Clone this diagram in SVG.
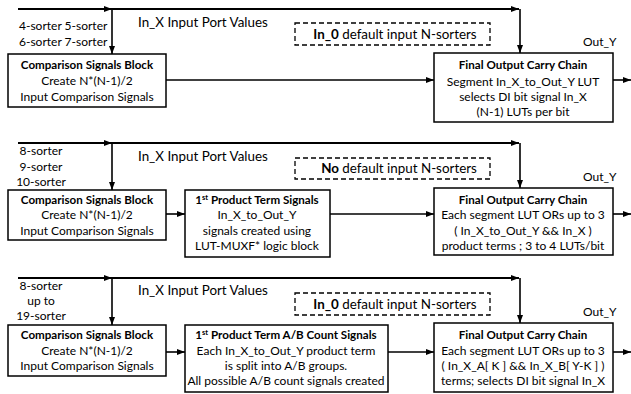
<svg xmlns="http://www.w3.org/2000/svg" width="631" height="394" viewBox="0 0 631 394">
<style>
text{font-family:Lato,"Liberation Sans",sans-serif;font-size:12px;fill:#000}
.c{text-anchor:middle}
.b{font-weight:bold;font-size:11.6px}
.t{font-size:13.4px}
.n{font-size:13.4px}
.box{fill:#fff;stroke:#000;stroke-width:1.5}
.dash{fill:none;stroke:#000;stroke-width:1.3;stroke-dasharray:5 3}
.ln{fill:none;stroke:#000;stroke-width:1.6;marker-end:url(#ah)}
.bus{fill:none;stroke:#000;stroke-width:2;marker-end:url(#ah)}
</style>
<defs>
<marker id="ah" markerUnits="userSpaceOnUse" markerWidth="8" markerHeight="6" refX="8" refY="3" orient="auto">
<path d="M0,0 L8,3 L0,6 Z" fill="#000"/>
</marker>
</defs>
<g id="connectors">
<path class="bus" d="M18,9 H112"/>
<path class="bus" d="M112,9 H519"/>
<path class="ln" d="M112,9 V54"/>
<path class="ln" d="M520,9 V53"/>
<path class="ln" d="M166,80 H434"/>
<path class="ln" d="M613,80 H631"/>
<path class="bus" d="M18,143 H112"/>
<path class="bus" d="M112,143 H519"/>
<path class="ln" d="M112,143 V190"/>
<path class="ln" d="M520,143 V188"/>
<path class="ln" d="M166,214 H185"/>
<path class="ln" d="M330,214 H434"/>
<path class="ln" d="M613,214 H631"/>
<path class="bus" d="M18,278 H112"/>
<path class="bus" d="M112,278 H519"/>
<path class="ln" d="M112,278 V325"/>
<path class="ln" d="M520,278 V323"/>
<path class="ln" d="M166,352 H185"/>
<path class="ln" d="M388,352 H434"/>
<path class="ln" d="M613,352 H631"/>
</g>
<g id="labels1">
<text x="19" y="30">4-sorter 5-sorter</text>
<text x="19" y="46">6-sorter 7-sorter</text>
<text class="t" x="138" y="27">In_X Input Port Values</text>
<text x="583" y="46">Out_Y</text>
</g>
<g id="note1">
<rect class="dash" x="295" y="23" width="195" height="22"/>
<text class="c n" x="395" y="39"><tspan font-weight="bold">In_0</tspan> default input N-sorters</text>
</g>
<g id="cmp1">
<rect class="box" x="8" y="54" width="158" height="53"/>
<text class="c b" x="87" y="69">Comparison Signals Block</text>
<text class="c" x="87" y="85">Create N*(N-1)/2</text>
<text class="c" x="87" y="101">Input Comparison Signals</text>
</g>
<g id="out1">
<rect class="box" x="434" y="53" width="179" height="69"/>
<text class="c b" x="523" y="69">Final Output Carry Chain</text>
<text class="c" x="523" y="86">Segment In_X_to_Out_Y LUT</text>
<text class="c" x="523" y="101">selects DI bit signal In_X</text>
<text class="c" x="523" y="116">(N-1) LUTs  per bit</text>
</g>
<g id="labels2">
<text class="c" x="41" y="155">8-sorter</text>
<text class="c" x="41" y="171">9-sorter</text>
<text class="c" x="41" y="186">10-sorter</text>
<text class="t" x="138" y="161">In_X Input Port Values</text>
<text x="583" y="181">Out_Y</text>
</g>
<g id="note2">
<rect class="dash" x="295" y="158" width="195" height="21"/>
<text class="c n" x="399" y="173"><tspan font-weight="bold">No</tspan> default input N-sorters</text>
</g>
<g id="cmp2">
<rect class="box" x="8" y="190" width="158" height="50"/>
<text class="c b" x="87" y="204">Comparison Signals Block</text>
<text class="c" x="87" y="219">Create N*(N-1)/2</text>
<text class="c" x="87" y="235">Input Comparison Signals</text>
</g>
<g id="prod2">
<rect class="box" x="185" y="190" width="145" height="67"/>
<text class="c b" x="257" y="204">1<tspan font-size="7.5" dy="-4">st</tspan><tspan dy="4"> Product Term Signals</tspan></text>
<text class="c" x="257" y="219">In_X_to_Out_Y</text>
<text class="c" x="257" y="235">signals created using</text>
<text class="c" x="257" y="250">LUT-MUXF*  logic block</text>
</g>
<g id="out2">
<rect class="box" x="434" y="188" width="179" height="67"/>
<text class="c b" x="523" y="204">Final Output Carry Chain</text>
<text class="c" x="523" y="219">Each segment LUT ORs up to 3</text>
<text class="c" x="523" y="235">( In_X_to_Out_Y &amp;&amp; In_X )</text>
<text class="c" x="523" y="250">product terms ; 3 to 4 LUTs/bit</text>
</g>
<g id="labels3">
<text class="c" x="41" y="290">8-sorter</text>
<text class="c" x="41" y="305">up to</text>
<text class="c" x="41" y="320">19-sorter</text>
<text class="t" x="138" y="295">In_X Input Port Values</text>
<text x="583" y="316">Out_Y</text>
</g>
<g id="note3">
<rect class="dash" x="295" y="293" width="195" height="22"/>
<text class="c n" x="395" y="309"><tspan font-weight="bold">In_0</tspan> default input N-sorters</text>
</g>
<g id="cmp3">
<rect class="box" x="8" y="325" width="158" height="51"/>
<text class="c b" x="87" y="339">Comparison Signals Block</text>
<text class="c" x="87" y="355">Create N*(N-1)/2</text>
<text class="c" x="87" y="370">Input Comparison Signals</text>
</g>
<g id="prod3">
<rect class="box" x="185" y="325" width="203" height="67"/>
<text class="c b" x="286" y="339">1<tspan font-size="7.5" dy="-4">st</tspan><tspan dy="4"> Product Term A/B Count Signals</tspan></text>
<text class="c" x="286" y="355">Each In_X_to_Out_Y  product term</text>
<text class="c" x="286" y="370">is split into A/B groups.</text>
<text class="c" x="286" y="385">All possible A/B count signals created</text>
</g>
<g id="out3">
<rect class="box" x="434" y="323" width="179" height="69"/>
<text class="c b" x="523" y="339">Final Output Carry Chain</text>
<text class="c" x="523" y="355">Each segment LUT ORs up to 3</text>
<text class="c" x="523" y="370">( In_X_A[ K ] &amp;&amp;  In_X_B[ Y-K ] )</text>
<text class="c" x="523" y="385">terms; selects DI bit signal In_X</text>
</g>
</svg>
